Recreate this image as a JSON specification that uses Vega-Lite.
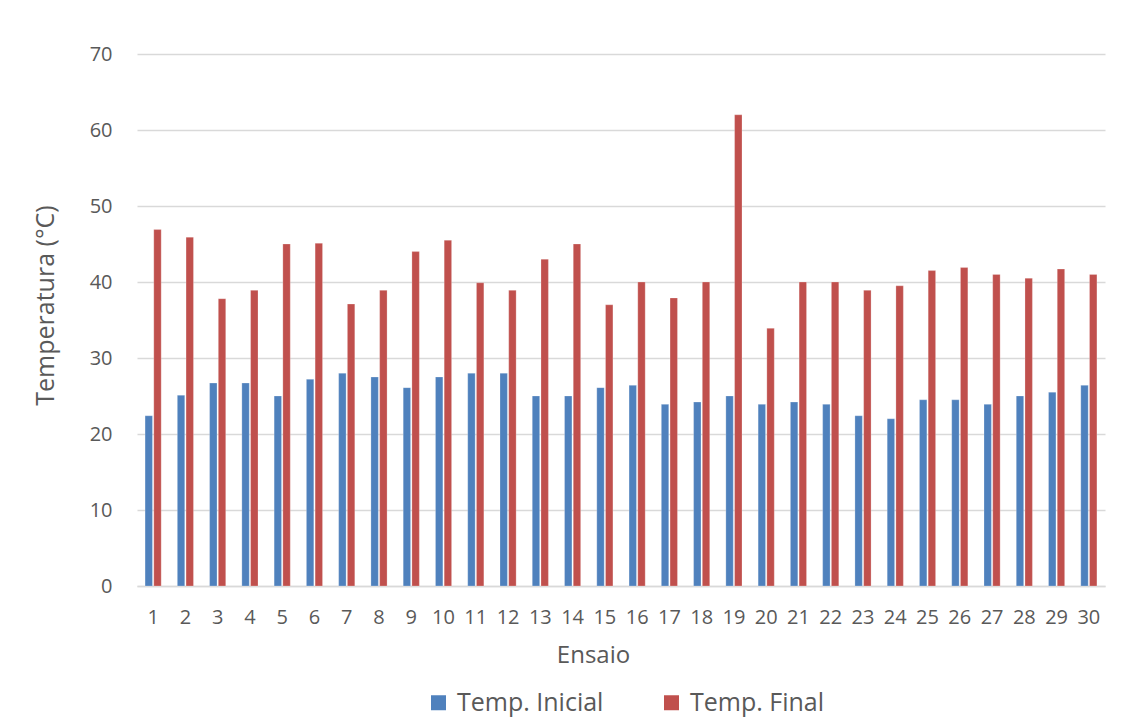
{
  "$schema": "https://vega.github.io/schema/vega-lite/v6.json",
  "autosize": {"type": "none"},
  "width": 968,
  "height": 532,
  "padding": {"left": 137, "top": 54, "right": 18, "bottom": 134},
  "background": "white",
  "config": {
    "font": "Open Sans",
    "view": {"stroke": null},
    "axis": {"labelFont": "Open Sans", "titleFont": "Open Sans", "labelColor": "#595959", "titleColor": "#595959", "titleFontWeight": "normal"}
  },
  "data": {
    "values": [
      {"ensaio": 1, "serie": "Temp. Inicial", "temp": 22.4}, {"ensaio": 1, "serie": "Temp. Final", "temp": 46.9},
      {"ensaio": 2, "serie": "Temp. Inicial", "temp": 25.1}, {"ensaio": 2, "serie": "Temp. Final", "temp": 45.9},
      {"ensaio": 3, "serie": "Temp. Inicial", "temp": 26.7}, {"ensaio": 3, "serie": "Temp. Final", "temp": 37.8},
      {"ensaio": 4, "serie": "Temp. Inicial", "temp": 26.7}, {"ensaio": 4, "serie": "Temp. Final", "temp": 38.9},
      {"ensaio": 5, "serie": "Temp. Inicial", "temp": 25.0}, {"ensaio": 5, "serie": "Temp. Final", "temp": 45.0},
      {"ensaio": 6, "serie": "Temp. Inicial", "temp": 27.2}, {"ensaio": 6, "serie": "Temp. Final", "temp": 45.1},
      {"ensaio": 7, "serie": "Temp. Inicial", "temp": 28.0}, {"ensaio": 7, "serie": "Temp. Final", "temp": 37.1},
      {"ensaio": 8, "serie": "Temp. Inicial", "temp": 27.5}, {"ensaio": 8, "serie": "Temp. Final", "temp": 38.9},
      {"ensaio": 9, "serie": "Temp. Inicial", "temp": 26.1}, {"ensaio": 9, "serie": "Temp. Final", "temp": 44.0},
      {"ensaio": 10, "serie": "Temp. Inicial", "temp": 27.5}, {"ensaio": 10, "serie": "Temp. Final", "temp": 45.5},
      {"ensaio": 11, "serie": "Temp. Inicial", "temp": 28.0}, {"ensaio": 11, "serie": "Temp. Final", "temp": 39.9},
      {"ensaio": 12, "serie": "Temp. Inicial", "temp": 28.0}, {"ensaio": 12, "serie": "Temp. Final", "temp": 38.9},
      {"ensaio": 13, "serie": "Temp. Inicial", "temp": 25.0}, {"ensaio": 13, "serie": "Temp. Final", "temp": 43.0},
      {"ensaio": 14, "serie": "Temp. Inicial", "temp": 25.0}, {"ensaio": 14, "serie": "Temp. Final", "temp": 45.0},
      {"ensaio": 15, "serie": "Temp. Inicial", "temp": 26.1}, {"ensaio": 15, "serie": "Temp. Final", "temp": 37.0},
      {"ensaio": 16, "serie": "Temp. Inicial", "temp": 26.4}, {"ensaio": 16, "serie": "Temp. Final", "temp": 40.0},
      {"ensaio": 17, "serie": "Temp. Inicial", "temp": 23.9}, {"ensaio": 17, "serie": "Temp. Final", "temp": 37.9},
      {"ensaio": 18, "serie": "Temp. Inicial", "temp": 24.2}, {"ensaio": 18, "serie": "Temp. Final", "temp": 40.0},
      {"ensaio": 19, "serie": "Temp. Inicial", "temp": 25.0}, {"ensaio": 19, "serie": "Temp. Final", "temp": 62.0},
      {"ensaio": 20, "serie": "Temp. Inicial", "temp": 23.9}, {"ensaio": 20, "serie": "Temp. Final", "temp": 33.9},
      {"ensaio": 21, "serie": "Temp. Inicial", "temp": 24.2}, {"ensaio": 21, "serie": "Temp. Final", "temp": 40.0},
      {"ensaio": 22, "serie": "Temp. Inicial", "temp": 23.9}, {"ensaio": 22, "serie": "Temp. Final", "temp": 40.0},
      {"ensaio": 23, "serie": "Temp. Inicial", "temp": 22.4}, {"ensaio": 23, "serie": "Temp. Final", "temp": 38.9},
      {"ensaio": 24, "serie": "Temp. Inicial", "temp": 22.0}, {"ensaio": 24, "serie": "Temp. Final", "temp": 39.5},
      {"ensaio": 25, "serie": "Temp. Inicial", "temp": 24.5}, {"ensaio": 25, "serie": "Temp. Final", "temp": 41.5},
      {"ensaio": 26, "serie": "Temp. Inicial", "temp": 24.5}, {"ensaio": 26, "serie": "Temp. Final", "temp": 41.9},
      {"ensaio": 27, "serie": "Temp. Inicial", "temp": 23.9}, {"ensaio": 27, "serie": "Temp. Final", "temp": 41.0},
      {"ensaio": 28, "serie": "Temp. Inicial", "temp": 25.0}, {"ensaio": 28, "serie": "Temp. Final", "temp": 40.5},
      {"ensaio": 29, "serie": "Temp. Inicial", "temp": 25.5}, {"ensaio": 29, "serie": "Temp. Final", "temp": 41.7},
      {"ensaio": 30, "serie": "Temp. Inicial", "temp": 26.4}, {"ensaio": 30, "serie": "Temp. Final", "temp": 41.0}
    ]
  },
  "mark": {"type": "bar", "stroke": "white", "strokeOpacity": 0.4, "strokeWidth": 0.6},
  "encoding": {
    "x": {
      "field": "ensaio", "type": "ordinal",
      "scale": {"paddingInner": 0.5, "paddingOuter": 0.25},
      "axis": {
        "title": "Ensaio", "titleFontSize": 24, "titlePadding": 16, "titleX": 456,
        "labelFontSize": 20, "labelPadding": 21, "labelAngle": 0,
        "ticks": false, "domainColor": "#d9d9d9", "domainWidth": 1.5
      }
    },
    "xOffset": {
      "field": "serie", "type": "nominal",
      "sort": ["Temp. Inicial", "Temp. Final"],
      "scale": {"paddingInner": 0.15}
    },
    "y": {
      "field": "temp", "type": "quantitative",
      "scale": {"domain": [0, 70]},
      "axis": {
        "title": "Temperatura (°C)", "titleFontSize": 25, "titlePadding": 31, "titleY": 251,
        "labelFontSize": 20, "labelPadding": 25, "values": [0, 10, 20, 30, 40, 50, 60, 70],
        "ticks": false, "domain": false, "gridColor": "#d9d9d9", "gridWidth": 1.5
      }
    },
    "color": {
      "field": "serie", "type": "nominal",
      "sort": ["Temp. Inicial", "Temp. Final"],
      "scale": {"domain": ["Temp. Inicial", "Temp. Final"], "range": ["#4F81BD", "#C0504D"]},
      "legend": {
        "title": null, "orient": "none", "direction": "horizontal",
        "legendX": 289, "legendY": 636,
        "symbolType": "square", "symbolSize": 225, "symbolStrokeWidth": 0,
        "labelFontSize": 25, "labelColor": "#595959", "labelFont": "Open Sans",
        "columnPadding": 55, "labelOffset": 6, "labelLimit": 300
      }
    }
  }
}
